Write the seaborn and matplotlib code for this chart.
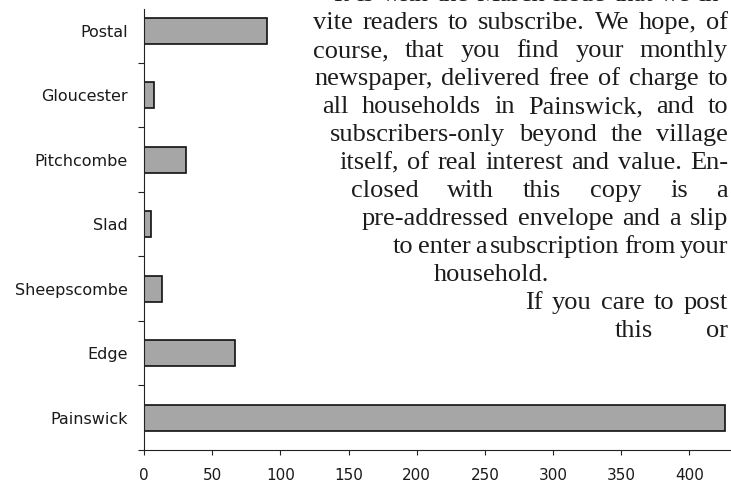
import numpy as np
import pandas as pd
import matplotlib
matplotlib.use("Agg")
import matplotlib.pyplot as plt
import seaborn as sns

# bar chart data (top to bottom)
places = ["Postal", "Gloucester", "Pitchcombe", "Slad", "Sheepscombe", "Edge", "Painswick"]
counts = [90, 7, 31, 5, 13, 67, 426]
x_ticks = [0, 50, 100, 150, 200, 250, 300, 350, 400]

# newspaper text that sits over the right side of the chart
note_lines = [
    "It is with the March issue that we in-",
    "vite readers to subscribe. We hope, of",
    "course, that you find your monthly",
    "newspaper, delivered free of charge to",
    "all households in Painswick, and to",
    "subscribers-only beyond the village",
    "itself, of real interest and value. En-",
    "closed with this copy is a",
    "pre-addressed envelope and a slip",
    "to enter a subscription from your",
    "household.",
    "If you care to post",
    "this or",
]
# left edge of each line in pixels; ragged lines are not spread to the right edge
note_left = [333, 313, 313, 314, 322, 330, 339, 351, 362, 393, 434, 525, 615]
note_justify = [True] * 10 + [False, True, True]

W, H = 731, 480
RIGHT_EDGE = 728
FIRST_BASE = 1.3
LEADING = 28.0


def place_line(fig, renderer, text, left, base, justify):
    """Put one line of the note on the figure, spreading words to the right edge."""
    words = text.split() if justify else [text]
    items = [fig.text(0, 0, w, fontsize=19, family=["Liberation Serif", "DejaVu Serif"],
                      color="#1c1c1c", ha="left", va="baseline") for w in words]
    widths = [t.get_window_extent(renderer).width for t in items]
    gap = 0
    if len(words) > 1:
        gap = (RIGHT_EDGE - left - sum(widths)) / (len(words) - 1)
    x = left
    for t, w in zip(items, widths):
        t.set_position((x / W, 1 - base / H))
        x += w + gap


def main():
    sns.set_style("white")
    plt.rcParams["font.family"] = ["DejaVu Sans"]

    fig = plt.figure(figsize=(W / 100, H / 100), dpi=100)
    ax = fig.add_axes([144 / W, 30 / H, (W - 144) / W, 441 / H])

    df = pd.DataFrame({"place": places, "count": counts})
    sns.barplot(data=df, x="count", y="place", orient="h", color="#a6a6a6",
                saturation=1, edgecolor="#111111", linewidth=1.2, width=0.4, ax=ax)

    ax.set_xlim(0, 430.5)
    ax.set_ylim(6.5, -0.337)
    ax.set_xticks(x_ticks)
    ax.set_yticks(range(len(places)))
    ax.set_yticklabels(places)
    ax.set_yticks(np.arange(0.5, len(places), 1), minor=True)
    ax.set_xlabel("")
    ax.set_ylabel("")

    ax.tick_params(axis="y", which="major", length=0, pad=11.5, labelsize=11.5, labelcolor="#1a1a1a")
    ax.tick_params(axis="y", which="minor", left=True, length=4.3, width=0.8,
                   direction="out", color="#222222")
    ax.tick_params(axis="x", bottom=True, length=3.6, width=0.8, direction="out",
                   color="#222222", pad=9.3, labelsize=11, labelcolor="#1a1a1a")

    sns.despine(ax=ax)
    for side in ["left", "bottom"]:
        ax.spines[side].set_color("#222222")
        ax.spines[side].set_linewidth(0.8)

    renderer = fig.canvas.get_renderer()
    for i, line in enumerate(note_lines):
        place_line(fig, renderer, line, note_left[i], FIRST_BASE + i * LEADING, note_justify[i])

    fig.savefig("out.png", dpi=100)


if __name__ == "__main__":
    main()
